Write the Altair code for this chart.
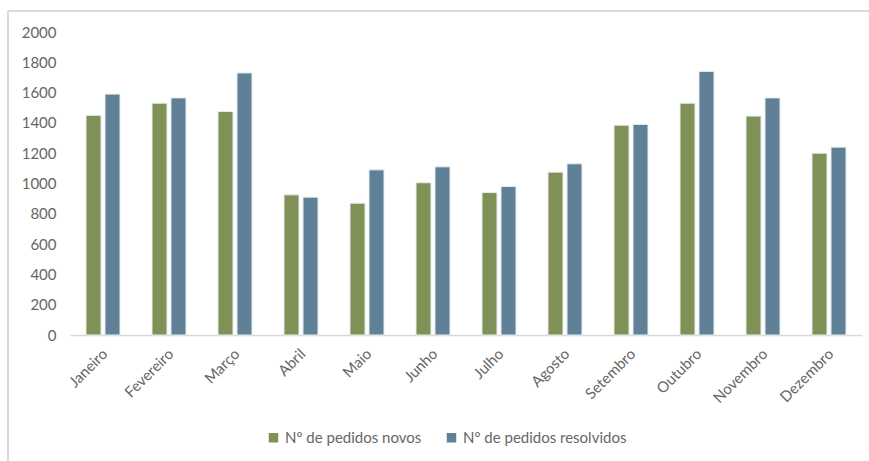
import altair as alt
import pandas as pd

months = ["Janeiro", "Fevereiro", "Março", "Abril", "Maio", "Junho",
          "Julho", "Agosto", "Setembro", "Outubro", "Novembro", "Dezembro"]
series_names = ["Nº de pedidos novos", "Nº de pedidos resolvidos"]
novos = [1450, 1530, 1475, 925, 870, 1005, 940, 1075, 1385, 1530, 1445, 1200]
resolvidos = [1590, 1565, 1730, 910, 1090, 1110, 980, 1130, 1390, 1740, 1565, 1240]
colors = ["#7f9157", "#5f8096"]

rows = []
for m, a, b in zip(months, novos, resolvidos):
    rows.append({"mes": m, "serie": series_names[0], "valor": a})
    rows.append({"mes": m, "serie": series_names[1], "valor": b})
df = pd.DataFrame(rows)

FONT = "Lato"
GREY = "#666666"

bars = alt.Chart(df).mark_bar(stroke="#e8ecef", strokeWidth=1).encode(
    x=alt.X("mes:N", sort=months, title=None,
            scale=alt.Scale(paddingInner=0.485, paddingOuter=0.2425),
            axis=alt.Axis(labelAngle=-45, labelAlign="right", labelBaseline="top",
                          labelPadding=11, ticks=False, domainColor="#d9d9d9",
                          domainWidth=1.5, labelColor=GREY, labelFont=FONT,
                          labelFontSize=15, labelOffset=-3)),
    xOffset=alt.XOffset("serie:N", sort=series_names,
                        scale=alt.Scale(paddingInner=0.21)),
    y=alt.Y("valor:Q", title=None,
            scale=alt.Scale(domain=[0, 2000]),
            axis=alt.Axis(values=list(range(0, 2001, 200)), format="d", grid=False,
                          domain=False, ticks=False, labelPadding=14,
                          labelColor=GREY, labelFont=FONT, labelFontSize=15)),
    color=alt.Color("serie:N", sort=series_names,
                    scale=alt.Scale(domain=series_names, range=colors),
                    legend=alt.Legend(title=None, orient="none", direction="horizontal",
                                      legendX=196, legendY=398, symbolType="square",
                                      symbolSize=90, symbolStrokeWidth=0,
                                      labelFont=FONT, labelFontSize=15, labelLimit=0,
                                      labelColor=GREY, columnPadding=22,
                                      labelOffset=4)),
)

frame_top = alt.Chart(df).mark_rule(color="#d9d9d9", strokeWidth=1).encode(
    x=alt.value(-62), x2=alt.value(800), y=alt.value(-21))
frame_left = alt.Chart(df).mark_rule(color="#d9d9d9", strokeWidth=1).encode(
    x=alt.value(-62), y=alt.value(-21), y2=alt.value(430))

chart = alt.layer(frame_top, frame_left, bars).properties(
    width=792, height=303,
    autosize=alt.AutoSizeParams(type="none"),
    padding={"left": 70, "top": 32, "right": 7, "bottom": 126},
    background="white",
).configure_view(stroke=None)

chart.save("out.html", embed_options={"renderer": "svg", "actions": False})
